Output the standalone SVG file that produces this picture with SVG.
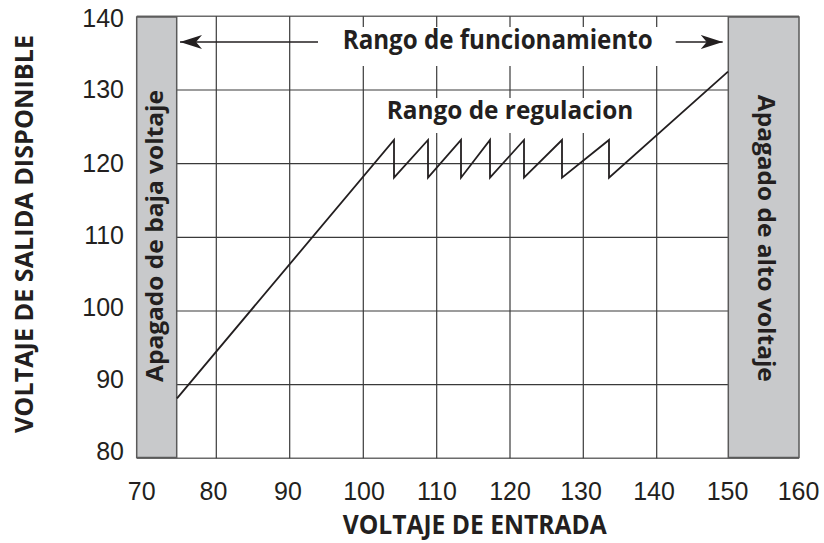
<svg xmlns="http://www.w3.org/2000/svg" width="824" height="543" viewBox="0 0 824 543">
  <style>
    .grid { stroke: #3a3a3a; stroke-width: 1.2; fill: none; }
    .frame { stroke: #6b6b6b; stroke-width: 1.6; fill: none; }
    .box { fill: #c8c9cb; stroke: #5a5a5a; stroke-width: 1.5; }
    .tick { font-family: "Liberation Sans", Arial, sans-serif; font-size: 25px; fill: #231f20; }
    .bold { font-family: "Open Sans", "DejaVu Sans", sans-serif; font-weight: 700; fill: #231f20; }
    .curve { stroke: #231f20; stroke-width: 1.8; fill: none; stroke-linejoin: miter; }
    .arrow { stroke: #231f20; stroke-width: 1.6; fill: none; }
  </style>
  <defs>
    <marker id="ah" markerUnits="userSpaceOnUse" markerWidth="24" markerHeight="16" refX="22" refY="7" orient="auto">
      <path d="M0,0 L22,7 L0,14 L6,7 Z" fill="#231f20"/>
    </marker>
  </defs>
  <rect width="824" height="543" fill="#ffffff"/>

  <g id="grid">
    <line class="frame" x1="136.7" y1="16.3" x2="799" y2="16.3"/>
    <line class="frame" x1="136.7" y1="458.3" x2="799" y2="458.3"/>
    <line class="grid" x1="177" y1="90" x2="728" y2="90"/>
    <line class="grid" x1="177" y1="163.7" x2="728" y2="163.7"/>
    <line class="grid" x1="177" y1="237.3" x2="728" y2="237.3"/>
    <line class="grid" x1="177" y1="311" x2="728" y2="311"/>
    <line class="grid" x1="177" y1="384.7" x2="728" y2="384.7"/>
    <line class="grid" x1="216.3" y1="16.3" x2="216.3" y2="458.3"/>
    <line class="grid" x1="289.7" y1="16.3" x2="289.7" y2="458.3"/>
    <line class="grid" x1="363.3" y1="16.3" x2="363.3" y2="458.3"/>
    <line class="grid" x1="436.7" y1="16.3" x2="436.7" y2="458.3"/>
    <line class="grid" x1="510" y1="16.3" x2="510" y2="458.3"/>
    <line class="grid" x1="583.3" y1="16.3" x2="583.3" y2="458.3"/>
    <line class="grid" x1="656.7" y1="16.3" x2="656.7" y2="458.3"/>
    <rect x="322" y="27" width="346" height="39" fill="#ffffff"/>
    <rect x="380" y="98" width="260" height="35" fill="#ffffff"/>
  </g>

  <g id="low-cutoff">
    <rect class="box" x="136.7" y="17" width="40" height="440.5"/>
    <text class="bold" font-size="24" text-anchor="middle" textLength="292" lengthAdjust="spacingAndGlyphs" transform="translate(163.3,236) rotate(-90)">Apagado de baja voltaje</text>
  </g>

  <g id="high-cutoff">
    <rect class="box" x="728.3" y="17" width="70.7" height="440.5"/>
    <text class="bold" font-size="24" text-anchor="middle" textLength="287" lengthAdjust="spacingAndGlyphs" transform="translate(758.3,238.3) rotate(90)">Apagado de alto voltaje</text>
  </g>

  <g id="curve">
    <polyline class="curve" points="177,398.3 394,140 394,177.7 428,140 428,177.7 461,140 461,177.7 490,140 490,177.7 524,140 524,177.7 562,140 562,177.7 609,140 609,177.7 728,71.7"/>
  </g>

  <g id="connectors">
    <line class="arrow" x1="318" y1="42" x2="180" y2="42" marker-end="url(#ah)"/>
    <line class="arrow" x1="675.7" y1="42" x2="722.7" y2="42" marker-end="url(#ah)"/>
  </g>

  <g id="range-labels">
    <text class="bold" font-size="26" x="342.7" y="49.3" textLength="310" lengthAdjust="spacingAndGlyphs">Rango de funcionamiento</text>
    <text class="bold" font-size="25" x="386.7" y="119.3" textLength="246.6" lengthAdjust="spacingAndGlyphs">Rango de regulacion</text>
  </g>

  <g id="y-ticks" class="tick" text-anchor="end">
    <text x="124" y="26.7">140</text>
    <text x="124" y="98.3">130</text>
    <text x="124" y="171.7">120</text>
    <text x="124" y="243.5">110</text>
    <text x="124" y="315.5">100</text>
    <text x="124" y="388.3">90</text>
    <text x="124" y="460">80</text>
  </g>

  <g id="x-ticks" class="tick" text-anchor="middle">
    <text x="141.7" y="500">70</text>
    <text x="213.5" y="500">80</text>
    <text x="288" y="500">90</text>
    <text x="364" y="500">100</text>
    <text x="437" y="500">110</text>
    <text x="510" y="500">120</text>
    <text x="581" y="500">130</text>
    <text x="654" y="500">140</text>
    <text x="727.5" y="500">150</text>
    <text x="798.5" y="500">160</text>
  </g>

  <g id="axis-titles">
    <text class="bold" font-size="26" x="474.7" y="534.3" text-anchor="middle" textLength="264" lengthAdjust="spacingAndGlyphs">VOLTAJE DE ENTRADA</text>
    <text class="bold" font-size="25" text-anchor="middle" textLength="398" lengthAdjust="spacingAndGlyphs" transform="translate(33.3,234) rotate(-90)">VOLTAJE DE SALIDA DISPONIBLE</text>
  </g>
</svg>
